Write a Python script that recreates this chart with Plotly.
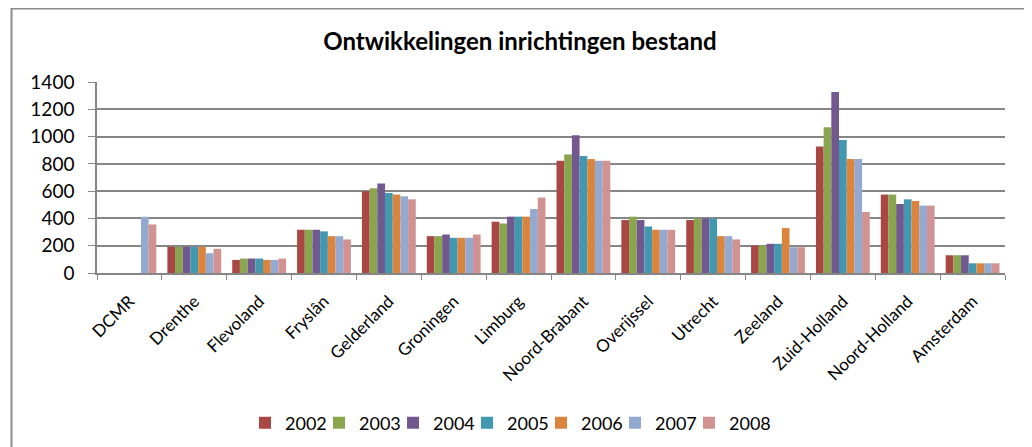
import plotly.graph_objects as go

categories = ["DCMR", "Drenthe", "Flevoland", "Fryslân", "Gelderland", "Groningen", "Limburg",
              "Noord-Brabant", "Overijssel", "Utrecht", "Zeeland", "Zuid-Holland", "Noord-Holland", "Amsterdam"]
years = ["2002", "2003", "2004", "2005", "2006", "2007", "2008"]

v2002 = [None, 192, 96, 317, 599, 270, 376, 823, 388, 388, 201, 928, 575, 130]
v2003 = [None, 192, 106, 317, 621, 270, 363, 869, 413, 400, 201, 1068, 575, 130]
v2004 = [None, 192, 106, 317, 656, 282, 413, 1009, 388, 400, 214, 1326, 506, 130]
v2005 = [None, 192, 106, 305, 587, 258, 413, 857, 341, 400, 214, 975, 540, 71]
v2006 = [None, 192, 96, 270, 575, 258, 413, 835, 317, 270, 329, 835, 528, 71]
v2007 = [412, 145, 96, 270, 562, 258, 469, 823, 317, 270, 189, 835, 494, 71]
v2008 = [356, 177, 106, 246, 540, 282, 553, 823, 317, 246, 189, 447, 494, 71]

series = [v2002, v2003, v2004, v2005, v2006, v2007, v2008]
colors = ["#AA4643", "#89A54E", "#71588F", "#4198AF", "#DB843D", "#93A9CF", "#D19392"]

FONT = "Lato, 'Open Sans', sans-serif"

fig = go.Figure()
for name, vals, col in zip(years, series, colors):
    fig.add_trace(go.Bar(x=categories, y=vals, name=name,
                         marker=dict(color=col, line=dict(width=0))))
# transparent legend spacer so the last legend label is not clipped
fig.add_trace(go.Scatter(x=[None], y=[None], name=" ", mode="lines", showlegend=True,
                         hoverinfo="skip", line=dict(color="rgba(0,0,0,0)", width=0)))

# page body has an 8px margin; compensate so the plot lands where the reference has it
OFF = 8
W, H = 1032, 447
L, T = 97 - OFF, 82 - OFF
pw, ph = 908, 191
R = W - L - pw
B = H - T - ph

def px_x(xs):
    return (xs - 97) / pw

def px_y(ys):
    return (273 - ys) / ph

fig.update_layout(
    width=W, height=H,
    margin=dict(l=L, r=R, t=T, b=B, autoexpand=False),
    paper_bgcolor="white", plot_bgcolor="white",
    barmode="group", bargap=0.17, bargroupgap=0,
    font=dict(family=FONT, size=18, color="#000000"),
    title=dict(text="<b>Ontwikkelingen inrichtingen bestand</b>",
               x=(520 - OFF) / W, xanchor="center", y=1 - (42 - OFF) / H, yanchor="middle",
               font=dict(family=FONT, size=24, color="#000000")),
    showlegend=True,
    legend=dict(orientation="h", x=px_x(245), xanchor="left",
                y=px_y(423), yanchor="middle", bgcolor="rgba(0,0,0,0)",
                font=dict(family=FONT, size=18, color="#000000"),
                entrywidth=29, entrywidthmode="pixels", itemwidth=30,
                traceorder="normal"),
    xaxis=dict(type="category", tickangle=-45, tickson="boundaries",
               ticks="outside", ticklen=5, tickcolor="#868686", automargin=False,
               ticklabelstandoff=10,
               showline=True, linecolor="#868686", linewidth=1.5,
               showgrid=False, tickfont=dict(family=FONT, size=17, color="#000000")),
    yaxis=dict(range=[0, 1400], dtick=200, ticks="outside", ticklen=7, automargin=False,
               ticklabelstandoff=10,
               tickcolor="#868686", showline=True, linecolor="#868686", linewidth=1.5,
               showgrid=True, gridcolor="#868686", gridwidth=1.5,
               zeroline=False, tickfont=dict(family=FONT, size=19, color="#000000")),
    shapes=[dict(type="rect", xref="paper", yref="paper",
                 x0=px_x(11.5), x1=px_x(1029), y0=px_y(470), y1=px_y(8.5),
                 line=dict(color="#8C8C8C", width=2), fillcolor="rgba(0,0,0,0)", layer="below")],
)

fig.write_html("out.html")
